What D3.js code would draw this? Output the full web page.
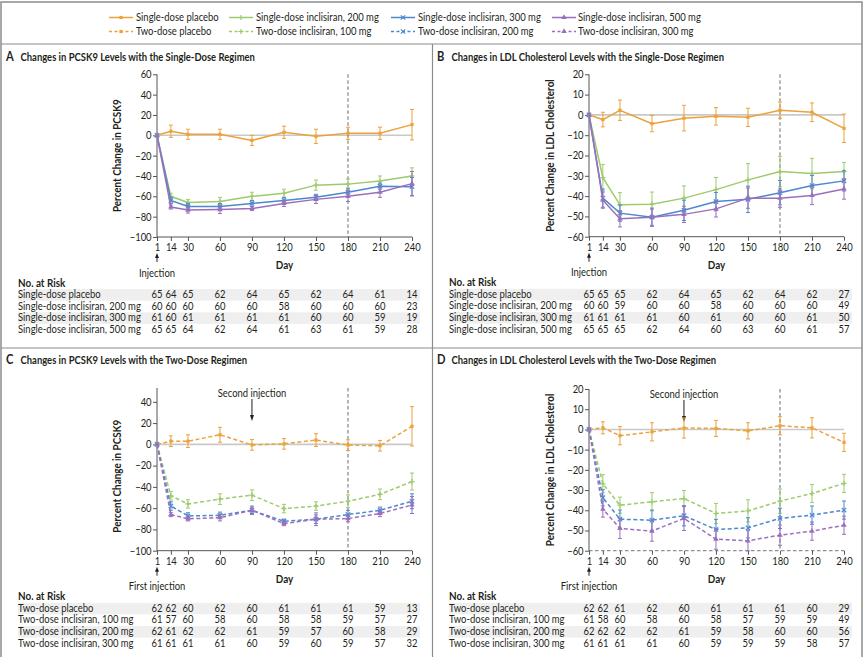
<!DOCTYPE html>
<html>
<head>
<meta charset="utf-8">
<script src="https://cdn.jsdelivr.net/npm/d3@7"></script>
<style>
  body { margin: 0; background: #fff; }
  svg text { font-family: Lato, "Noto Sans", sans-serif; fill: #231f20; }
</style>
</head>
<body>
<svg id="chart" width="865" height="657"></svg>
<script>
// days on the x axis
var days = [1, 14, 30, 60, 90, 120, 150, 180, 210, 240];

var singleNames = ['Single-dose placebo', 'Single-dose inclisiran, 200 mg', 'Single-dose inclisiran, 300 mg', 'Single-dose inclisiran, 500 mg'];
var twoNames = ['Two-dose placebo', 'Two-dose inclisiran, 100 mg', 'Two-dose inclisiran, 200 mg', 'Two-dose inclisiran, 300 mg'];

// A: PCSK9, single dose (mean and half error bar)
var aPlacebo = [0, 4, 1, 1, -5, 3, -1, 2, 2, 10.5];
var a200 = [0, -60, -66, -65, -60, -57, -49, -48, -45, -40];
var a300 = [0, -64, -70, -70, -67, -64, -61, -56, -50, -50.5];
var a500 = [0, -70.5, -73.5, -73, -72, -67, -63, -60, -56, -47.5];
var aPlaceboErr = [0, 6, 5, 5, 5, 6, 7, 6, 6, 15];
var a200Err = [0, 3, 3, 4, 4, 4, 5, 5, 5, 8];
var a300Err = [0, 3, 3, 3, 3, 3, 3, 4, 3, 9];
var a500Err = [0, 2, 3, 4, 2, 3, 4, 5, 5, 12];

// B: LDL, single dose
var bPlacebo = [0, -2.3, 2.3, -4.3, -1.6, -0.7, -1.2, 2.3, 1.3, -6.6];
var b200 = [0, -30.9, -44.3, -44, -41, -36.8, -32, -27.9, -28.9, -27.9];
var b300 = [0, -41, -48.4, -50.4, -47, -42.7, -41.6, -38.3, -34.8, -32.5];
var b500 = [0, -42, -51.2, -50.4, -49, -46.3, -41, -41, -39.7, -36.5];
var bPlaceboErr = [0, 3.6, 5, 4, 6.3, 4.3, 4.5, 4, 4.6, 7];
var b200Err = [0, 6.5, 6, 6, 6, 6, 8, 7.5, 7.5, 4.5];
var b300Err = [0, 4.5, 4, 4.5, 5, 4.5, 6.5, 6, 5, 5];
var b500Err = [0, 4, 4, 4, 4, 4, 5, 4.5, 4.5, 5];

// C: PCSK9, two dose
var cPlacebo = [0, 3, 3, 9, -0.5, 0.5, 4, -0.7, -1.3, 17];
var c100 = [0, -48.4, -56, -51.5, -47.8, -60.4, -58, -53.5, -47, -35];
var c200 = [0, -58, -67.3, -66.7, -62, -72.3, -70.4, -66, -62, -53.5];
var c300 = [0, -66, -70, -69, -62, -74.5, -70.4, -69.8, -65, -57];
var cPlaceboErr = [0, 5, 6, 7, 5, 5, 6, 5, 5, 18.5];
var c100Err = [0, 4, 4, 5, 5, 4, 4, 6, 5, 8];
var c200Err = [0, 4, 3, 3, 3, 2, 4, 4, 3, 7];
var c300Err = [0, 2, 2, 3, 4, 2, 6, 3, 3, 8];

// D: LDL, two dose
var dPlacebo = [0, 0.8, -3.1, -1.2, 0.7, 0.5, -0.7, 1.8, 0.8, -6.4];
var d100 = [0, -26.9, -37.5, -35.8, -34.2, -41.6, -40.3, -35.5, -31.7, -26.7];
var d200 = [0, -33.8, -44.4, -44.9, -42.7, -49.5, -48.7, -44, -42.4, -39.9];
var d300 = [0, -39.4, -49, -50.3, -44, -54.3, -55.1, -52.3, -50.3, -47.4];
var dPlaceboErr = [0, 3, 4.5, 4.5, 5, 4, 4, 4.5, 5, 4.5];
var d100Err = [0, 4.5, 4, 4.5, 4, 5, 5.5, 6, 4.5, 4.5];
var d200Err = [0, 4, 4.5, 5, 5, 5, 5, 5, 4.5, 4.5];
var d300Err = [0, 4, 5, 5, 6, 5, 5, 5, 4.5, 4.5];

// No. at risk
var riskA = [[65, 64, 65, 62, 64, 65, 62, 64, 61, 14], [60, 60, 60, 60, 60, 58, 60, 60, 60, 23], [61, 60, 61, 61, 61, 61, 60, 60, 59, 19], [65, 65, 64, 62, 64, 61, 63, 61, 59, 28]];
var riskB = [[65, 65, 65, 62, 64, 65, 62, 64, 62, 27], [60, 60, 59, 60, 60, 58, 60, 60, 60, 49], [61, 61, 61, 61, 60, 61, 60, 60, 61, 50], [65, 65, 65, 62, 64, 60, 63, 60, 61, 57]];
var riskC = [[62, 62, 60, 62, 60, 61, 61, 61, 59, 13], [61, 57, 60, 58, 60, 58, 58, 59, 57, 27], [62, 61, 62, 62, 61, 59, 57, 60, 58, 29], [61, 61, 61, 61, 60, 59, 60, 59, 57, 32]];
var riskD = [[62, 62, 61, 62, 60, 61, 61, 61, 60, 29], [61, 58, 60, 58, 60, 58, 57, 59, 59, 49], [62, 62, 62, 62, 61, 59, 58, 60, 60, 56], [61, 61, 61, 61, 60, 59, 59, 59, 58, 57]];

var ticksPCSK9A = [60, 40, 20, 0, -20, -40, -60, -80, -100];
var ticksPCSK9C = [40, 20, 0, -20, -40, -60, -80, -100];
var ticksLDL = [20, 10, 0, -10, -20, -30, -40, -50, -60];

var colors = ['#eba23a', '#9dcb6c', '#4d87cf', '#9c6fbd'];
var markers = ['square', 'plus', 'times', 'triangle'];

// the original face is condensed; squeeze the text horizontally
var SX = 0.86;

var svg = d3.select('#chart');

// frame
svg.append('rect').attr('x', 1).attr('y', 2).attr('width', 861).attr('height', 700)
  .attr('fill', 'none').attr('stroke', '#8c8c8c').attr('stroke-width', 1.5);
svg.append('line').attr('x1', 1).attr('x2', 862).attr('y1', 44).attr('y2', 44).attr('stroke', '#8c8c8c').attr('stroke-width', 1.2);
svg.append('line').attr('x1', 1).attr('x2', 862).attr('y1', 348).attr('y2', 348).attr('stroke', '#8c8c8c').attr('stroke-width', 1.2);
svg.append('line').attr('x1', 432.5).attr('x2', 432.5).attr('y1', 44).attr('y2', 657).attr('stroke', '#8c8c8c').attr('stroke-width', 1.2);

function addText(g, x, y, str, size, anchor, bold, rotate) {
  return g.append('text')
    .attr('transform', 'translate(' + x + ',' + y + ')' + (rotate ? ' rotate(-90)' : '') + ' scale(' + SX + ',1)')
    .attr('font-size', size)
    .attr('text-anchor', anchor || 'start')
    .attr('font-weight', bold ? 'bold' : null)
    .text(str);
}

function drawMarker(g, type, x, y, color) {
  if (type === 'square') {
    g.append('rect').attr('x', x - 1.6).attr('y', y - 1.6).attr('width', 3.2).attr('height', 3.2).attr('fill', color);
  } else if (type === 'plus') {
    g.append('path').attr('d', 'M' + (x - 2.6) + ',' + y + 'h5.2M' + x + ',' + (y - 2.6) + 'v5.2')
      .attr('stroke', color).attr('stroke-width', 1.2).attr('fill', 'none');
  } else if (type === 'times') {
    g.append('path').attr('d', 'M' + (x - 2.2) + ',' + (y - 2.2) + 'l4.4,4.4M' + (x - 2.2) + ',' + (y + 2.2) + 'l4.4,-4.4')
      .attr('stroke', color).attr('stroke-width', 1.2).attr('fill', 'none');
  } else {
    g.append('path').attr('d', d3.symbol().type(d3.symbolTriangle).size(13)())
      .attr('transform', 'translate(' + x + ',' + y + ')').attr('fill', color);
  }
}

// legend
var legendX = [109, 229, 391, 552];
var legendTextX = [136, 256, 418, 578];
[singleNames, twoNames].forEach(function(names, r) {
  var ly = r === 0 ? 17.5 : 31.5;
  names.forEach(function(name, i) {
    var g = svg.append('g');
    g.append('line').attr('x1', legendX[i]).attr('x2', legendX[i] + 24).attr('y1', ly).attr('y2', ly)
      .attr('stroke', colors[i]).attr('stroke-width', 1.5).attr('stroke-dasharray', r ? '3,2.5' : null);
    drawMarker(g, markers[i], legendX[i] + 12, ly, colors[i]);
    addText(g, legendTextX[i], ly + 3.8, name, 11);
  });
});

function drawPanel(cfg) {
  var g = svg.append('g');

  var x = d3.scaleLinear().domain([1, 240]).range([cfg.left, cfg.right]);
  var y = d3.scaleLinear().domain(cfg.domain).range([cfg.bottom, cfg.top]);

  // title
  addText(g, cfg.titleX, cfg.titleY, cfg.letter, 13, 'start', true);
  addText(g, cfg.titleX + 14.5, cfg.titleY, cfg.title, 11, 'start', true);

  // zero line
  g.append('line').attr('x1', x(1)).attr('x2', x(240)).attr('y1', y(0)).attr('y2', y(0))
    .attr('stroke', '#c9c9c9').attr('stroke-width', 1.6);

  // day 180 dashed line
  g.append('line').attr('x1', x(180)).attr('x2', x(180)).attr('y1', cfg.top).attr('y2', cfg.bottom)
    .attr('stroke', '#6a6a6a').attr('stroke-width', 1).attr('stroke-dasharray', '3.5,2.5');

  // y axis
  var yAxis = g.append('g').attr('transform', 'translate(' + cfg.left + ',0)')
    .call(d3.axisLeft(y).tickValues(cfg.ticks).tickSize(4).tickPadding(2).tickFormat(function(d) {
      return d < 0 ? '\u2212' + Math.abs(d) : d;
    }));
  yAxis.attr('font-family', null);
  yAxis.select('.domain').attr('d', 'M0,' + cfg.top + 'V' + cfg.bottom).attr('stroke', '#555');
  yAxis.selectAll('.tick line').attr('stroke', '#555');
  yAxis.selectAll('text').attr('font-size', 10.5).attr('fill', '#231f20').attr('transform', 'scale(0.9,1)');

  addText(g, cfg.yLabelX, (y(cfg.ticks[0]) + y(cfg.ticks[cfg.ticks.length - 1])) / 2, cfg.yLabel, 11.5, 'middle', true, true);

  // x axis
  var xAxis = g.append('g').attr('transform', 'translate(0,' + cfg.bottom + ')')
    .call(d3.axisBottom(x).tickValues(days).tickSize(4).tickPadding(3));
  xAxis.attr('font-family', null);
  xAxis.select('.domain').attr('d', 'M' + cfg.left + ',0H' + cfg.right).attr('stroke', cfg.dashedAxis ? '#777' : '#555')
    .attr('stroke-dasharray', cfg.dashedAxis ? '3.5,2.5' : null);
  xAxis.selectAll('.tick line').attr('stroke', '#555');
  xAxis.selectAll('text').attr('font-size', 10.5).attr('fill', '#231f20').attr('transform', 'scale(0.9,1)');

  addText(g, (cfg.left + cfg.right) / 2, cfg.bottom + 32, 'Day', 11.5, 'middle', true);

  // injection arrow
  g.append('line').attr('x1', x(1)).attr('x2', x(1)).attr('y1', cfg.bottom + 25).attr('y2', cfg.bottom + 19)
    .attr('stroke', '#231f20').attr('stroke-width', 1);
  g.append('path').attr('d', 'M' + (x(1) - 2) + ',' + (cfg.bottom + 21) + 'L' + x(1) + ',' + (cfg.bottom + 16) + 'L' + (x(1) + 2) + ',' + (cfg.bottom + 21) + 'Z')
    .attr('fill', '#231f20');
  addText(g, x(1), cfg.bottom + 39.5, cfg.injection, 11, 'middle');

  if (cfg.second) {
    var sx = x(90);
    addText(g, sx, cfg.top + 8.5, 'Second injection', 11, 'middle');
    g.append('line').attr('x1', sx).attr('x2', sx).attr('y1', cfg.top + 11).attr('y2', cfg.top + 28)
      .attr('stroke', '#231f20').attr('stroke-width', 1);
    g.append('path').attr('d', 'M' + (sx - 2) + ',' + (cfg.top + 27) + 'L' + sx + ',' + (cfg.top + 33) + 'L' + (sx + 2) + ',' + (cfg.top + 27) + 'Z')
      .attr('fill', '#231f20');
  }

  // series
  var line = d3.line().x(function(d, i) { return x(days[i]); }).y(function(d) { return y(d); });
  cfg.means.forEach(function(vals, s) {
    var sg = g.append('g');
    var errs = cfg.errs[s];
    vals.forEach(function(v, i) {
      if (!errs[i]) return;
      var xi = x(days[i]);
      var y1 = y(v + errs[i]);
      var y2 = y(v - errs[i]);
      sg.append('path')
        .attr('d', 'M' + xi + ',' + y1 + 'V' + y2 + 'M' + (xi - 2) + ',' + y1 + 'h4M' + (xi - 2) + ',' + y2 + 'h4')
        .attr('stroke', colors[s]).attr('stroke-width', 1).attr('fill', 'none');
    });
    sg.append('path').datum(vals).attr('d', line).attr('fill', 'none')
      .attr('stroke', colors[s]).attr('stroke-width', 1.5)
      .attr('stroke-dasharray', cfg.dashed ? '4,2.5' : null);
    vals.forEach(function(v, i) {
      drawMarker(sg, markers[s], x(days[i]), y(v), colors[s]);
    });
  });

  // No. at risk table
  var tTop = cfg.bottom + 49.5;
  addText(g, cfg.tableX, tTop, 'No. at Risk', 11.5, 'start', true);
  var rows = g.selectAll('.risk-row').data(cfg.risk).enter().append('g').attr('class', 'risk-row')
    .attr('transform', function(d, i) { return 'translate(0,' + (tTop + 11.6 * (i + 1)) + ')'; });
  rows.filter(function(d, i) { return i % 2 === 0; }).append('rect')
    .attr('x', cfg.tableX).attr('y', -9).attr('width', cfg.tableW).attr('height', 11.6).attr('fill', '#efefef');
  rows.each(function(d, i) {
    addText(d3.select(this), cfg.tableX, 0, cfg.names[i], 11);
  });
  rows.selectAll('.n').data(function(d) { return d; }).enter().append('text').attr('class', 'n')
    .attr('transform', function(d, i) { return 'translate(' + x(days[i]) + ',0) scale(' + SX + ',1)'; })
    .attr('text-anchor', 'middle').attr('font-size', 11)
    .text(function(d) { return d; });
}

drawPanel({
  letter: 'A', title: 'Changes in PCSK9 Levels with the Single-Dose Regimen', titleX: 6, titleY: 60.5,
  left: 157, right: 412, top: 74.3, bottom: 237, domain: [-100, 60], ticks: ticksPCSK9A,
  yLabel: 'Percent Change in PCSK9', yLabelX: 121, dashed: false, injection: 'Injection',
  means: [aPlacebo, a200, a300, a500], errs: [aPlaceboErr, a200Err, a300Err, a500Err],
  risk: riskA, names: singleNames, tableX: 18, tableW: 402
});
drawPanel({
  letter: 'B', title: 'Changes in LDL Cholesterol Levels with the Single-Dose Regimen', titleX: 437, titleY: 60.5,
  left: 589, right: 844, top: 74.3, bottom: 236.7, domain: [-60, 20], ticks: ticksLDL,
  yLabel: 'Percent Change in LDL Cholesterol', yLabelX: 554, dashed: false, injection: 'Injection',
  means: [bPlacebo, b200, b300, b500], errs: [bPlaceboErr, b200Err, b300Err, b500Err],
  risk: riskB, names: singleNames, tableX: 449, tableW: 403
});
drawPanel({
  letter: 'C', title: 'Changes in PCSK9 Levels with the Two-Dose Regimen', titleX: 6, titleY: 364,
  left: 157, right: 412, top: 388, bottom: 550.7, domain: [-100, 53], ticks: ticksPCSK9C,
  yLabel: 'Percent Change in PCSK9', yLabelX: 121, dashed: true, injection: 'First injection', second: true,
  means: [cPlacebo, c100, c200, c300], errs: [cPlaceboErr, c100Err, c200Err, c300Err],
  risk: riskC, names: twoNames, tableX: 18, tableW: 402
});
drawPanel({
  letter: 'D', title: 'Changes in LDL Cholesterol Levels with the Two-Dose Regimen', titleX: 437, titleY: 364,
  left: 589, right: 844, top: 389, bottom: 550.7, domain: [-60, 20], ticks: ticksLDL,
  yLabel: 'Percent Change in LDL Cholesterol', yLabelX: 554, dashed: true, dashedAxis: true, injection: 'First injection', second: true,
  means: [dPlacebo, d100, d200, d300], errs: [dPlaceboErr, d100Err, d200Err, d300Err],
  risk: riskD, names: twoNames, tableX: 449, tableW: 403
});
</script>
</body>
</html>
